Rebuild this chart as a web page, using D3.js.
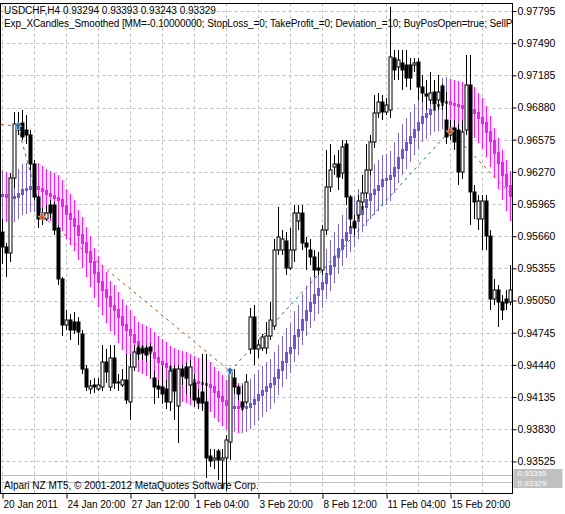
<!DOCTYPE html>
<html>
<head>
<meta charset="utf-8">
<script src="https://cdn.jsdelivr.net/npm/d3@7"></script>
<style>
  body { margin: 0; background: #fff; }
  text { font-family: "Liberation Sans", Arial, sans-serif; font-size: 10px; }
</style>
</head>
<body>
<script>
// Candles, H4 bars: [open, high, low, close]
const candles = [
  [.9570,.9582,.9540,.9556],[.9556,.9560,.9527,.9550],[.9550,.9626,.9542,.9621],[.9621,.9684,.9612,.9672],
  [.9667,.9684,.9662,.9672],[.9673,.9686,.9657,.9660],[.9667,.9681,.9653,.9662],[.9662,.9667,.9629,.9634],
  [.9634,.9638,.9600,.9603],[.9603,.9605,.9574,.9582],[.9582,.9593,.9577,.9588],[.9582,.9596,.9580,.9588],
  [.9596,.9600,.9583,.9588],[.9596,.9598,.9567,.9572],[.9574,.9577,.9520,.9525],[.9525,.9527,.9471,.9482],
  [.9482,.9496,.9477,.9487],[.9487,.9492,.9468,.9477],[.9485,.9494,.9473,.9477],[.9485,.9489,.9463,.9475],
  [.9473,.9477,.9435,.9440],[.9440,.9444,.9419,.9423],[.9421,.9430,.9416,.9424],[.9425,.9432,.9417,.9423],
  [.9421,.9432,.9419,.9425],[.9423,.9463,.9419,.9447],[.9447,.9459,.9427,.9437],[.9423,.9463,.9419,.9451],
  [.9451,.9463,.9421,.9427],[.9428,.9435,.9419,.9427],[.9425,.9440,.9423,.9430],[.9430,.9454,.9407,.9411],
  [.9409,.9454,.9392,.9442],[.9442,.9463,.9438,.9456],[.9460,.9463,.9449,.9454],[.9459,.9463,.9449,.9455],
  [.9460,.9463,.9447,.9453],[.9461,.9465,.9432,.9457],[.9432,.9438,.9407,.9423],[.9424,.9430,.9413,.9421],
  [.9423,.9444,.9407,.9416],[.9421,.9430,.9402,.9409],[.9409,.9444,.9400,.9438],[.9440,.9444,.9392,.9419],
  [.9405,.9444,.9370,.9440],[.9440,.9444,.9425,.9433],[.9442,.9447,.9416,.9432],[.9425,.9449,.9413,.9442],
  [.9427,.9435,.9404,.9411],[.9413,.9421,.9402,.9408],[.9418,.9454,.9400,.9408],[.9409,.9454,.9337,.9356],
  [.9358,.9364,.9347,.9353],[.9354,.9364,.9345,.9356],[.9362,.9364,.9335,.9354],[.9354,.9364,.9326,.9356],
  [.9356,.9378,.9324,.9373],[.9371,.9441,.9354,.9437],[.9432,.9440,.9416,.9423],[.9423,.9425,.9411,.9416],
  [.9409,.9425,.9400,.9404],[.9409,.9435,.9407,.9428],[.9459,.9498,.9454,.9489],[.9489,.9501,.9444,.9459],
  [.9459,.9468,.9451,.9463],[.9460,.9473,.9457,.9470],[.9460,.9485,.9454,.9471],[.9471,.9504,.9468,.9487],
  [.9481,.9563,.9477,.9553],[.9553,.9594,.9548,.9565],[.9553,.9572,.9548,.9563],[.9561,.9570,.9529,.9536],
  [.9536,.9574,.9534,.9553],[.9553,.9596,.9542,.9588],[.9580,.9596,.9572,.9588],[.9588,.9596,.9553,.9560],
  [.9560,.9565,.9534,.9556],[.9553,.9563,.9539,.9546],[.9546,.9553,.9527,.9534],[.9536,.9551,.9529,.9534],
  [.9534,.9577,.9529,.9572],[.9572,.9648,.9567,.9613],[.9613,.9653,.9608,.9629],[.9632,.9643,.9624,.9634],
  [.9634,.9648,.9610,.9622],[.9626,.9657,.9620,.9651],[.9653,.9657,.9596,.9603],[.9603,.9605,.9574,.9582],
  [.9579,.9586,.9567,.9574],[.9586,.9605,.9582,.9599],[.9598,.9624,.9591,.9607],[.9607,.9653,.9602,.9629],
  [.9629,.9662,.9624,.9655],[.9655,.9700,.9650,.9683],[.9683,.9702,.9678,.9693],[.9693,.9700,.9676,.9684],
  [.9684,.9697,.9681,.9690],[.9686,.9783,.9678,.9736],[.9735,.9743,.9714,.9724],[.9726,.9743,.9714,.9733],
  [.9730,.9743,.9705,.9724],[.9728,.9743,.9707,.9716],[.9728,.9735,.9705,.9716],[.9728,.9735,.9722,.9730],
  [.9731,.9735,.9695,.9707],[.9707,.9719,.9693,.9702],[.9701,.9714,.9686,.9699],[.9695,.9722,.9691,.9702],
  [.9703,.9714,.9686,.9691],[.9695,.9719,.9686,.9703],[.9708,.9710,.9686,.9693],[.9676,.9703,.9653,.9660],
  [.9662,.9676,.9657,.9669],[.9669,.9676,.9648,.9655],[.9667,.9672,.9615,.9627],[.9627,.9676,.9620,.9665],
  [.9667,.9738,.9662,.9709],[.9709,.9738,.9577,.9608],[.9608,.9615,.9582,.9598],[.9582,.9605,.9572,.9599],
  [.9582,.9605,.9553,.9599],[.9599,.9605,.9553,.9566],[.9566,.9572,.9496,.9506],[.9506,.9525,.9501,.9515],
  [.9515,.9520,.9480,.9504],[.9504,.9510,.9487,.9496],[.9506,.9515,.9496,.9503],[.9504,.9539,.9501,.9515]
];

// XCandles smoothed: centre of each smoothed candle
const smoothMid = [
  .9605,.9603,.9602,.9603,.9606,.9610,.9611,.9613,.9613,.9611,.9609,.9606,.9604,.9602,.9600,.9595,
  .9587,.9582,.9576,.9567,.9560,.9551,.9542,.9531,.9523,.9515,.9508,.9500,.9496,.9489,.9482,.9477,
  .9472,.9466,.9461,.9459,.9457,.9455,.9451,.9447,.9445,.9442,.9438,.9436,.9434,.9433,.9432,.9430,
  .9428,.9427,.9426,.9425,.9423,.9418,.9414,.9410,.9406,.9404,.9404,.9403,.9403,.9404,.9407,.9411,
  .9415,.9419,.9423,.9426,.9432,.9439,.9447,.9455,.9460,.9471,.9477,.9487,.9495,.9503,.9510,.9516,
  .9522,.9530,.9538,.9546,.9554,.9562,.9569,.9575,.9580,.9587,.9594,.9600,.9606,.9610,.9614,.9619,
  .9620,.9623,.9631,.9640,.9648,.9654,.9660,.9667,.9673,.9679,.9682,.9686,.9689,.9690,.9692,.9693,
  .9691,.9690,.9689,.9688,.9688,.9686,.9683,.9678,.9673,.9665,.9656,.9645,.9635,.9624,.9614,.9604
];
const smoothSpread = 0.0024;

// Expert trades: bar index, price, direction
const tradeBars   = [4, 10, 57, 112];
const tradePrices = [0.9670, 0.9585, 0.9438, 0.9666];
const tradeTypes  = ["buy", "sell", "buy", "sell"];
const tradeStart  = 0.9673; // position carried in from the left
const tradeEnd    = 0.9595; // open position at the right edge

const priceTicks = [0.97795,0.97490,0.97185,0.96880,0.96575,0.96270,0.95965,0.95660,0.95355,0.95050,0.94745,0.94440,0.94135,0.93830,0.93525];
const timeTickBars = [0, 16, 32, 48, 64, 80, 96, 112];
const timeLabels = ["20 Jan 2011","24 Jan 20:00","27 Jan 12:00","1 Feb 04:00","3 Feb 20:00","8 Feb 12:00","11 Feb 04:00","15 Feb 20:00"];
const bidAsk = [0.93395, 0.93329];

const width = 565, height = 514;
const plot = { left: 0.5, right: 512.5, top: 3.5, bottom: 493.5 };

const x = d3.scaleLinear().domain([0, 127]).range([2, 510]);
const y = d3.scaleLinear().domain([0.97795, 0.93525]).range([11, 461.4]);
const px = (v) => Math.round(x(v)) + 0.5;
const py = (v) => Math.round(y(v));

const svg = d3.select("body").append("svg").attr("width", width).attr("height", height);
svg.append("defs").append("clipPath").attr("id", "clip")
  .append("rect").attr("x", 1).attr("y", 4).attr("width", 511).attr("height", 489);

const g = svg.append("g").attr("clip-path", "url(#clip)");

// Grid.
const gridX = d3.range(0, 128, 8);
g.append("g").selectAll("line").data(gridX).join("line")
  .attr("x1", (d) => px(d)).attr("x2", (d) => px(d))
  .attr("y1", plot.top).attr("y2", plot.bottom)
  .attr("stroke", "#c0c0c0").attr("stroke-dasharray", "3,3");
g.append("g").selectAll("line").data(priceTicks).join("line")
  .attr("x1", plot.left).attr("x2", plot.right)
  .attr("y1", (d) => py(d) + 0.5).attr("y2", (d) => py(d) + 0.5)
  .attr("stroke", "#c0c0c0").attr("stroke-dasharray", "3,3");

// Bid / ask lines.
g.append("g").selectAll("line").data(bidAsk).join("line")
  .attr("x1", plot.left).attr("x2", plot.right)
  .attr("y1", (d) => py(d) + 0.5).attr("y2", (d) => py(d) + 0.5)
  .attr("stroke", "#c0c0c0");

// Smoothed candles.
const sm = smoothMid.map((m, i) => {
  const prev = i > 0 ? smoothMid[i - 1] : m;
  return { i, m, prev, up: m >= prev };
});
const gs = g.append("g");
gs.selectAll("rect.glow").data(sm.filter((d) => !d.up)).join("rect")
  .attr("x", (d) => px(d.i) - 2).attr("width", 5)
  .attr("y", (d) => py(d.m + smoothSpread)).attr("height", (d) => py(d.m - smoothSpread) - py(d.m + smoothSpread))
  .attr("fill", "#fbe3fb");
gs.selectAll("line").data(sm).join("line")
  .attr("x1", (d) => px(d.i)).attr("x2", (d) => px(d.i))
  .attr("y1", (d) => py(d.m + smoothSpread)).attr("y2", (d) => py(d.m - smoothSpread))
  .attr("stroke", (d) => (d.up ? "#7b68c8" : "#ee22ee"));
gs.selectAll("rect.body").data(sm).join("rect")
  .attr("x", (d) => px(d.i) - 1.5).attr("width", 3)
  .attr("y", (d) => Math.min(py(d.m), py(d.prev)) - 1)
  .attr("height", (d) => Math.max(3, Math.abs(py(d.m) - py(d.prev)) + 2))
  .attr("fill", (d) => (d.up ? "#6a5acd" : "#ee22ee"));

// Trade lines.
const tradePts = [{ i: -2, p: tradeStart, t: "sell" }]
  .concat(tradeBars.map((b, k) => ({ i: b, p: tradePrices[k], t: tradeTypes[k] })))
  .concat([{ i: 130, p: tradeEnd, t: "end" }]);
const segs = d3.pairs(tradePts);
g.append("g").selectAll("line").data(segs).join("line")
  .attr("x1", (d) => x(d[0].i)).attr("y1", (d) => y(d[0].p))
  .attr("x2", (d) => x(d[1].i)).attr("y2", (d) => y(d[1].p))
  .attr("stroke", (d) => (d[0].t === "buy" ? "#1e6eb4" : "#c8501e"))
  .attr("stroke-width", 1).attr("stroke-dasharray", "3,4");

// Candles.
const data = candles.map((c, i) => ({ i, o: c[0], h: c[1], l: c[2], c: c[3] }));
const gc = g.append("g");
gc.selectAll("line").data(data).join("line")
  .attr("x1", (d) => px(d.i)).attr("x2", (d) => px(d.i))
  .attr("y1", (d) => py(d.h)).attr("y2", (d) => py(d.l))
  .attr("stroke", "#000");
gc.selectAll("rect").data(data).join("rect")
  .attr("x", (d) => px(d.i) - 1.5).attr("width", 3)
  .attr("y", (d) => py(Math.max(d.o, d.c)))
  .attr("height", (d) => Math.max(1, py(Math.min(d.o, d.c)) - py(Math.max(d.o, d.c))))
  .attr("fill", (d) => (d.c >= d.o ? "#fff" : "#000"))
  .attr("stroke", "#000").attr("stroke-width", 1);

// Trade arrows.
const arrows = tradeBars.map((b, k) => ({ i: b, p: tradePrices[k], t: tradeTypes[k] }));
g.append("g").selectAll("path").data(arrows).join("path")
  .attr("transform", (d) => `translate(${x(d.i)},${y(d.p)})`)
  .attr("d", (d) => (d.t === "buy" ? "M0,-4L4,0L1.5,0L1.5,3L-1.5,3L-1.5,0L-4,0Z" : "M0,4L4,0L1.5,0L1.5,-3L-1.5,-3L-1.5,0L-4,0Z"))
  .attr("fill", (d) => (d.t === "buy" ? "#1e6eb4" : "#d2551e"))
  .attr("stroke", "#fff").attr("stroke-width", 0.5);

// Frame.
svg.append("rect").attr("x", plot.left).attr("y", plot.top)
  .attr("width", plot.right - plot.left).attr("height", plot.bottom - plot.top)
  .attr("fill", "none").attr("stroke", "#000");

// Right axis.
const yAxis = svg.append("g").attr("transform", `translate(${plot.right},0)`)
  .call(d3.axisRight(y).tickValues(priceTicks).tickFormat(d3.format(".5f")).tickSize(4).tickPadding(1));
yAxis.select(".domain").remove();
yAxis.selectAll("text").attr("fill", "#000").style("font-size", "10.5px");

// Bid / ask labels, stacked in one grey box.
svg.append("rect").attr("x", plot.right + 1).attr("y", py(bidAsk[0]) - 6)
  .attr("width", 49).attr("height", py(bidAsk[1]) - py(bidAsk[0]) + 12).attr("fill", "#c0c0c0");
svg.append("g").selectAll("text").data(bidAsk).join("text")
  .attr("x", plot.right + 5).attr("y", (d, k) => py(d) + (k ? 1.5 : -1.5)).attr("dy", "0.33em")
  .attr("fill", "#fff").style("font-size", "8px").text((d) => d3.format(".5f")(d));

// Bottom axis.
const xAxis = svg.append("g").attr("transform", `translate(0,${plot.bottom})`)
  .call(d3.axisBottom(x).tickValues(timeTickBars).tickFormat((d, k) => timeLabels[k]).tickSize(5).tickPadding(2));
xAxis.select(".domain").remove();
xAxis.selectAll(".tick line").attr("transform", "translate(0.5,0)");
xAxis.selectAll("text").attr("text-anchor", "start").attr("dx", "1").attr("fill", "#000").style("font-size", "10px");

// Texts.
const gt = svg.append("g").attr("clip-path", "url(#clip)");
gt.append("text").attr("x", 4).attr("y", 14).text("USDCHF,H4  0.93294 0.93393 0.93243 0.93329");
gt.append("text").attr("x", 4).attr("y", 27).attr("letter-spacing", "-0.1")
  .text("Exp_XCandles_Smoothed [MM=-0.10000000; StopLoss_=0; TakeProfit_=0; Deviation_=10; BuyPosOpen=true; SellPosOpen=true]");
gt.append("text").attr("x", 4).attr("y", 489).text("Alpari NZ MT5, © 2001-2012 MetaQuotes Software Corp.");
</script>
</body>
</html>
